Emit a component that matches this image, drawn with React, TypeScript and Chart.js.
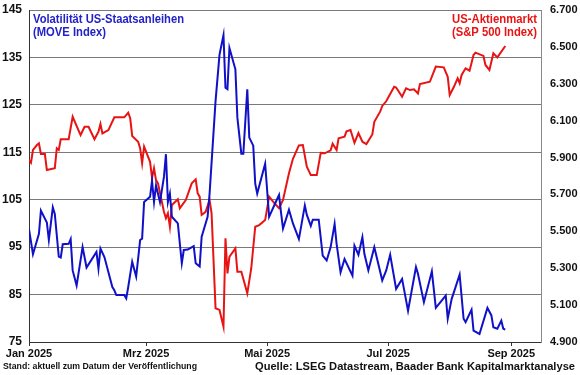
import React, { useEffect, useRef } from "react";
import { Chart, registerables } from "chart.js";

Chart.register(...registerables);

// Day offsets from 1 Jan 2025
const moveDays = [0, 2, 5, 6, 9, 10, 12, 13, 15, 16, 17, 20, 21, 22, 24, 27, 29, 34, 35, 36, 38, 42, 43, 44, 48, 49, 50, 52, 54, 56, 57, 58, 61, 62, 63, 64, 66, 68, 69, 70, 71, 72, 75, 77, 78, 80, 83, 84, 86, 87, 90, 91, 94, 96, 98, 99, 100, 101, 104, 105, 107, 108, 110, 111, 113, 114, 115, 119, 121, 124, 126, 127, 128, 131, 133, 136, 139, 140, 142, 143, 146, 148, 150, 152, 154, 155, 157, 159, 163, 164, 166, 168, 169, 171, 174, 178, 180, 182, 185, 188, 191, 195, 196, 199, 203, 205, 210, 211, 213, 217, 219, 220, 223, 224, 227, 231, 233, 234, 236, 238, 239, 240];
const moveValues = [98.8, 93.5, 97.8, 102.7, 100.2, 96.5, 103.4, 102.0, 93.0, 92.8, 95.6, 95.7, 96.7, 90.1, 86.9, 95.0, 90.7, 94.0, 90.5, 94.7, 92.9, 86.6, 85.9, 84.9, 84.9, 84.2, 86.6, 91.9, 88.8, 96.5, 96.8, 104.5, 105.6, 109.0, 104.5, 108.0, 104.5, 109.8, 114.6, 104.5, 106.3, 101.4, 100.0, 91.6, 94.4, 94.5, 95.2, 91.6, 90.9, 97.2, 101.4, 106.3, 125.8, 135.6, 139.7, 128.6, 128.3, 137.0, 132.5, 122.3, 114.7, 114.7, 128.3, 118.1, 116.4, 108.4, 106.3, 112.6, 101.4, 104.2, 106.0, 102.3, 98.9, 102.9, 100.0, 96.7, 103.8, 101.8, 99.5, 100.8, 100.8, 93.2, 92.2, 95.0, 99.9, 95.7, 89.7, 92.5, 89.0, 95.3, 93.4, 97.1, 93.6, 90.1, 95.0, 88.0, 90.1, 93.4, 86.2, 88.3, 81.6, 90.8, 89.4, 83.4, 89.9, 82.2, 84.8, 79.9, 84.1, 89.2, 79.9, 79.2, 81.8, 77.4, 76.7, 82.2, 80.6, 78.1, 77.8, 79.5, 77.8, 77.6];

const spxDays = [0, 1, 2, 4, 5, 6, 8, 9, 13, 14, 15, 16, 20, 22, 26, 28, 30, 33, 35, 36, 37, 40, 43, 48, 50, 51, 52, 55, 56, 57, 58, 61, 62, 63, 64, 65, 68, 69, 70, 71, 72, 75, 76, 79, 82, 84, 85, 86, 87, 89, 91, 92, 94, 96, 98, 99, 100, 101, 104, 105, 107, 110, 112, 114, 116, 119, 121, 123, 126, 128, 131, 133, 136, 138, 140, 142, 145, 147, 149, 152, 153, 155, 156, 159, 160, 162, 164, 166, 168, 170, 173, 174, 177, 178, 180, 184, 185, 188, 190, 192, 194, 196, 197, 202, 204, 205, 209, 211, 212, 214, 216, 217, 218, 220, 222, 224, 225, 229, 230, 232, 234, 236, 240];
const spxValues = [5887, 5872, 5941, 5968, 5977, 5919, 5919, 5832, 5842, 5950, 5941, 5999, 5999, 6121, 6022, 6067, 6067, 5999, 6040, 6082, 6031, 6049, 6118, 6118, 6143, 6113, 6017, 5986, 5950, 5869, 5959, 5877, 5790, 5842, 5778, 5760, 5606, 5571, 5598, 5525, 5643, 5674, 5625, 5670, 5760, 5782, 5706, 5688, 5589, 5606, 5670, 5598, 5083, 5074, 4983, 5462, 5272, 5362, 5408, 5281, 5281, 5164, 5300, 5525, 5534, 5561, 5688, 5661, 5625, 5670, 5815, 5893, 5966, 5968, 5850, 5805, 5805, 5925, 5923, 5939, 5975, 5941, 6004, 6013, 6042, 6049, 5980, 6033, 5986, 5973, 6025, 6094, 6150, 6180, 6205, 6284, 6280, 6230, 6275, 6266, 6270, 6248, 6299, 6311, 6366, 6393, 6389, 6338, 6239, 6281, 6330, 6303, 6348, 6384, 6371, 6456, 6469, 6451, 6402, 6375, 6465, 6443, 6505];

const xTickDays = [0, 59, 120, 181, 243];
const xTickLabels = ["Jan 2025", "Mrz 2025", "Mai 2025", "Jul 2025", "Sep 2025"];

const moveLabel = ["Volatilität US-Staatsanleihen", "(MOVE Index)"];
const spxLabel = ["US-Aktienmarkt", "(S&P 500 Index)"];
const footLeft = "Stand: aktuell zum Datum der Veröffentlichung";
const footRight = "Quelle: LSEG Datastream, Baader Bank Kapitalmarktanalyse";

const FONT = '"Liberation Sans", Arial, sans-serif';
const BLUE = "#1010c8";
const RED = "#e81414";

function fitText(ctx: CanvasRenderingContext2D, text: string, x: number, y: number, width: number, align: "left" | "right") {
  const w = ctx.measureText(text).width;
  const s = width / w;
  ctx.save();
  ctx.textAlign = "left";
  const left = align === "left" ? x : x - width;
  ctx.translate(left, y);
  ctx.scale(s, 1);
  ctx.fillText(text, 0, 0);
  ctx.restore();
}

const textPlugin = {
  id: "texts",
  afterDraw(chart: any) {
    const ctx = chart.ctx as CanvasRenderingContext2D;
    ctx.save();
    ctx.textBaseline = "alphabetic";
    ctx.font = `bold 12px ${FONT}`;
    ctx.fillStyle = "#2222c8";
    fitText(ctx, moveLabel[0], 33, 22.5, 151, "left");
    fitText(ctx, moveLabel[1], 33, 35.5, 73, "left");
    ctx.fillStyle = RED;
    fitText(ctx, spxLabel[0], 537, 22.5, 85, "right");
    fitText(ctx, spxLabel[1], 537, 35.5, 85, "right");
    ctx.fillStyle = "#111";
    ctx.font = `bold 9px ${FONT}`;
    fitText(ctx, footLeft, 3, 369, 194, "left");
    ctx.font = `bold 11px ${FONT}`;
    fitText(ctx, footRight, 575, 370, 320, "right");
    ctx.restore();
  },
};

export default function App() {
  const ref = useRef<HTMLCanvasElement>(null);
  useEffect(() => {
    if (!ref.current) return;
    const chart = new Chart(ref.current, {
      type: "line",
      data: {
        datasets: [
          {
            label: "MOVE",
            data: moveDays.map((d, i) => ({ x: d, y: moveValues[i] })),
            borderColor: BLUE,
            borderWidth: 2,
            pointRadius: 0,
            tension: 0,
            yAxisID: "y",
          },
          {
            label: "S&P 500",
            data: spxDays.map((d, i) => ({ x: d, y: spxValues[i] })),
            borderColor: RED,
            borderWidth: 2,
            pointRadius: 0,
            tension: 0,
            yAxisID: "y2",
          },
        ],
      },
      options: {
        animation: false,
        responsive: false,
        layout: { padding: { top: 10, left: 0, right: 0, bottom: 0 } },
        plugins: { legend: { display: false }, tooltip: { enabled: false } },
        scales: {
          x: {
            type: "linear",
            min: 0,
            max: 258,
            afterFit: (s: any) => { s.height = 33; s.paddingLeft = 0; s.paddingRight = 0; },
            afterBuildTicks: (s: any) => { s.ticks = xTickDays.map((v) => ({ value: v })); },
            grid: { drawOnChartArea: false, drawTicks: true, tickLength: 4, color: "#333" },
            border: { display: true, color: "#333", width: 1 },
            ticks: {
              autoSkip: false,
              maxRotation: 0,
              padding: 1,
              color: "#111",
              font: { family: FONT, size: 11, weight: "bold" },
              callback: (v: any) => {
                const i = xTickDays.indexOf(Number(v));
                return i >= 0 ? xTickLabels[i] : "";
              },
            },
          },
          y: {
            position: "left",
            min: 75,
            max: 145,
            afterFit: (s: any) => { s.width = 29; s.paddingTop = 0; s.paddingBottom = 0; },
            grid: { color: "#7a7a7a", lineWidth: 1, drawTicks: false },
            border: { display: true, color: "#333", width: 1 },
            ticks: {
              stepSize: 10,
              padding: 7,
              color: "#111",
              font: { family: FONT, size: 12, weight: "bold" },
            },
          },
          y2: {
            position: "right",
            min: 4900,
            max: 6700,
            afterFit: (s: any) => { s.width = 39; s.paddingTop = 0; s.paddingBottom = 0; },
            grid: { display: false, drawTicks: false },
            border: { display: true, color: "#888", width: 1 },
            ticks: {
              stepSize: 200,
              padding: 9,
              color: "#111",
              font: { family: FONT, size: 11, weight: "bold" },
              callback: (v: any) => (Number(v) / 1000).toFixed(3),
            },
          },
        },
      },
      plugins: [textPlugin],
    } as any);
    return () => chart.destroy();
  }, []);
  return (
    <div style={{ position: "fixed", left: 0, top: 0, width: 580, height: 375, background: "#fff" }}>
      <canvas ref={ref} width={580} height={375} style={{ width: 580, height: 375 }} />
    </div>
  );
}
